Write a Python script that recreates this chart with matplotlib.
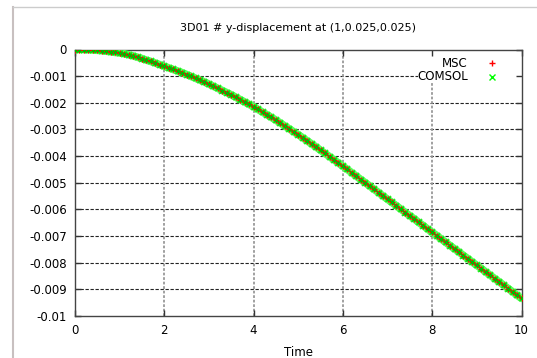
import matplotlib
matplotlib.use('Agg')
import matplotlib.pyplot as plt
import numpy as np
from matplotlib.lines import Line2D
from matplotlib.patches import Rectangle

# time samples (every 0.1 s) and y-displacement
time = [round(0.1 * i, 1) for i in range(101)]
msc_disp = [
    0.0, -0.000001, -0.000004, -0.00001, -0.00002, -0.00003, -0.000045, -0.000065, -0.000085, -0.00011,
    -0.00013, -0.00016, -0.0002, -0.00024, -0.00029, -0.00034, -0.0004, -0.00045, -0.00051, -0.00057,
    -0.00063, -0.00069, -0.00075, -0.00081, -0.00087, -0.00094, -0.00101, -0.00108, -0.00115, -0.00122,
    -0.0013, -0.00138, -0.00146, -0.00154, -0.00162, -0.0017, -0.00179, -0.00188, -0.00197, -0.00206,
    -0.00215, -0.00225, -0.00235, -0.00245, -0.00255, -0.00265, -0.00276, -0.00287, -0.00298, -0.00309,
    -0.0032, -0.00331, -0.00343, -0.00354, -0.00366, -0.00378, -0.0039, -0.00402, -0.00414, -0.00426,
    -0.00438, -0.0045, -0.00463, -0.00475, -0.00488, -0.005, -0.00512, -0.00525, -0.00537, -0.0055,
    -0.00562, -0.00574, -0.00587, -0.00599, -0.00612, -0.00624, -0.00636, -0.00649, -0.00661, -0.00674,
    -0.00686, -0.00698, -0.00711, -0.00723, -0.00736, -0.00748, -0.0076, -0.00773, -0.00785, -0.00798,
    -0.0081, -0.00822, -0.00835, -0.00847, -0.0086, -0.00872, -0.00884, -0.00897, -0.00909, -0.00922,
    -0.00934,
]
# the two solutions overlap completely at this resolution
comsol_disp = list(msc_disp)

x_ticks = [0, 2, 4, 6, 8, 10]
y_ticks = [0, -0.001, -0.002, -0.003, -0.004, -0.005, -0.006, -0.007, -0.008, -0.009, -0.01]
y_tick_labels = ['0', '-0.001', '-0.002', '-0.003', '-0.004', '-0.005',
                 '-0.006', '-0.007', '-0.008', '-0.009', '-0.01']

fs = 8.5
fig = plt.figure(figsize=(5.37, 3.58), dpi=100)
ax = fig.add_axes([75/537, 1 - 316/358, 446.5/537, 266.5/358])

# the samples are so dense in the original that the marks merge into a band
ax.plot(time, comsol_disp, '-', lw=5.5, color='#55ff55', solid_capstyle='round', zorder=3)
ax.plot(time, comsol_disp, linestyle='none', marker='x', ms=5, mew=1.2, color='#22ee22', zorder=3.5)
ax.plot(time, msc_disp, '-', lw=1.2, color='#ff0000', zorder=4)
ax.plot(time, msc_disp, linestyle='none', marker='+', ms=4, mew=0.8, color='#ff0000', zorder=4)
ax.plot(time, comsol_disp, linestyle='none', marker='x', ms=2.5, mew=1, color='#00bb00', zorder=5)

ax.set_xlim(0, 10)
ax.set_ylim(-0.01, 0)
ax.set_xticks(x_ticks)
ax.set_xticklabels([str(v) for v in x_ticks], fontsize=fs)
ax.set_yticks(y_ticks)
ax.set_yticklabels(y_tick_labels, fontsize=fs)
ax.tick_params(direction='in', length=4, width=1, color='#333333',
               top=True, right=True, pad=6)

# gnuplot style grid: dashed black rows, dotted grey columns
for yv in y_ticks[1:-1]:
    ax.axhline(yv, color='#222222', lw=0.8, ls=(0, (3, 1.5)), zorder=1)
for xv in x_ticks[1:-1]:
    ax.axvline(xv, color='#999999', lw=1.3, ls=(0, (1.5, 1)), zorder=1)

for spine in ax.spines.values():
    spine.set_color('#444444')
    spine.set_linewidth(1)

ax.set_title('3D01 # y-displacement at (1,0.025,0.025)', fontsize=8, pad=13)
ax.set_xlabel('Time', fontsize=fs, labelpad=6)

# key, drawn by hand: blank box, right aligned text, sample to the right
ax.add_patch(Rectangle((0.768, 0.874), 0.232, 0.126, transform=ax.transAxes,
                       facecolor='white', edgecolor='none', zorder=1.5))
ax.text(0.880, 0.949, 'MSC', transform=ax.transAxes, ha='right', va='center', fontsize=fs, zorder=6)
ax.text(0.880, 0.897, 'COMSOL', transform=ax.transAxes, ha='right', va='center', fontsize=fs, zorder=6)
ax.plot([0.934], [0.949], transform=ax.transAxes, marker='+', ms=5, mew=1, color='#ff0000', zorder=6)
ax.plot([0.934], [0.897], transform=ax.transAxes, marker='x', ms=4.5, mew=1, color='#00ff00', zorder=6)

# outer window frame
fig.add_artist(Line2D([12.5/537, 12.5/537], [0, 1 - 7/358], color='#c8c0c0', lw=1.5))
fig.add_artist(Line2D([12.5/537, 1], [1 - 7/358, 1 - 7/358], color='#cccccc', lw=1))

fig.savefig('out.png', dpi=100)
